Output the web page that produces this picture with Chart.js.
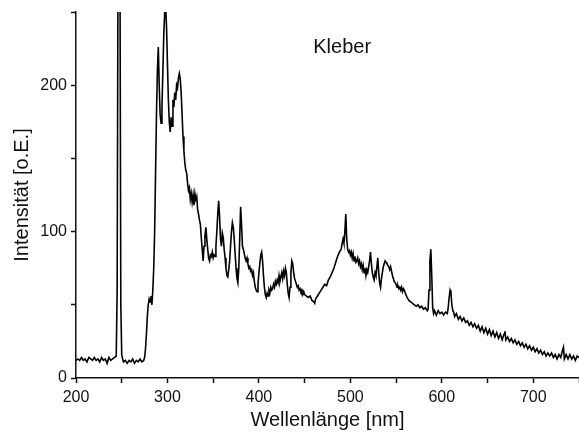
<!DOCTYPE html>
<html>
<head>
<meta charset="utf-8">
<script src="https://cdn.jsdelivr.net/npm/chart.js@4"></script>
<style>
  html, body { margin: 0; padding: 0; background: #fff; }
  #wrap { width: 579px; height: 437px; position: relative; }
</style>
</head>
<body>
<div id="wrap"><canvas id="c" width="579" height="437"></canvas></div>
<script>
// Wavelength (nm) and intensity (o.E.)
const wavelengthNm = [
  200,202,204,206,208,210,212,214,216,218,
  220,222,224,226,228,230,232,234,236,238,
  240,242,244,245,246,247,248,249,250,251,
  252,254,256,258,260,262,264,266,268,270,
  272,274,275,276,277,278,279,280,281,282,
  283,284,285,286,287,288,289,290,291,292,
  293,294,295,296,297,298,299,300,301,302,
  303,304,305,306,307,308,309,310,311,312,
  313,314,315,316,317,318,319,320,321,322,
  323,324,325,326,327,328,329,330,331,332,
  333,334,335,336,337,338,339,340,341,342,
  343,344,345,346,347,348,349,350,351,352,
  353,354,355,356,357,358,359,360,361,362,
  363,364,365,366,367,368,369,370,371,372,
  373,374,375,376,377,378,379,380,381,382,
  383,384,385,386,387,388,389,390,391,392,
  393,394,395,396,397,398,399,400,401,402,
  403,404,405,406,407,408,409,410,411,412,
  413,414,415,416,417,418,419,420,421,422,
  423,424,425,426,427,428,429,430,431,432,
  433,434,435,436,437,438,439,440,441,442,
  443,444,445,446,447,448,449,450,452,454,
  456,458,460,461,462,464,466,468,470,472,
  474,476,478,480,482,484,486,488,490,491,
  492,493,494,495,496,497,498,499,500,501,
  502,503,504,505,506,507,508,509,510,511,
  512,513,514,515,516,517,518,519,520,521,
  522,523,524,525,526,527,528,529,530,531,
  532,533,534,535,536,537,538,539,540,541,
  542,543,544,545,546,547,548,549,550,551,
  552,553,554,555,556,557,558,559,560,562,
  564,566,568,570,572,574,576,578,580,582,
  584,585,586,587,588,589,590,591,592,594,
  596,598,600,602,604,606,607,608,609,610,
  611,612,613,614,616,618,620,622,624,626,
  628,630,632,634,636,638,640,642,644,646,
  648,650,652,654,656,658,660,662,664,666,
  668,669,670,672,674,676,678,680,682,684,
  686,688,690,692,694,696,698,700,702,704,
  706,708,710,712,714,716,718,720,722,724,
  726,728,730,732,733,734,736,738,740,742,
  744,746,748,750
];
const intensity = [
  12,13,12,14,12,13,11,14,13,12,
  14,12,13,11,14,12,13,10,14,12,
  13,14,15,60,300,500,300,50,16,13,
  11,12,10,12,11,13,10,12,11,13,
  11,12,14,20,30,42,50,54,52,56,
  50,60,75,100,140,180,210,226,200,180,
  174,185,210,235,250,254,240,215,190,175,
  168,178,172,190,185,195,190,200,198,205,
  208,204,195,180,165,155,147,142,140,133,
  128,130,122,126,120,125,118,126,122,124,
  115,112,108,105,96,88,80,90,97,103,
  95,88,82,80,84,83,86,82,84,83,
  90,100,112,121,110,95,90,99,96,88,
  82,75,70,69,74,80,90,100,106,103,
  95,85,75,68,65,75,95,117,105,90,
  88,85,82,80,82,78,75,76,73,74,
  70,72,66,62,60,59,64,72,78,84,
  86,80,70,62,57,55,58,56,60,58,
  62,60,61,64,62,66,64,67,65,70,
  66,69,72,68,73,70,75,72,64,58,
  55,62,72,80,78,72,68,66,64,62,
  63,60,61,59,60,57,59,57,56,55,
  56,53,52,51,54,56,58,60,62,64,
  63,67,69,72,75,79,83,86,88,92,
  95,92,100,112,95,88,86,87,84,86,
  82,85,80,83,79,80,82,78,80,76,
  78,74,77,72,75,70,74,72,76,80,
  86,78,72,69,67,72,70,76,82,72,
  65,62,68,72,76,78,80,79,78,77,
  76,74,76,73,70,68,66,65,64,62,
  63,61,62,60,62,59,61,60,58,55,
  53,52,51,50,49,50,48,49,47,48,
  46,47,60,80,88,70,48,44,46,43,
  46,44,45,43,45,44,48,55,60,58,
  50,46,45,42,44,40,42,39,41,38,
  39,36,38,35,37,34,36,32,35,31,
  34,30,33,29,32,28,31,27,30,26,
  30,32,26,28,25,27,24,26,23,25,
  22,24,21,23,20,22,19,21,18,20,
  17,19,16,18,15,17,15,17,14,16,
  13,16,14,19,21,13,16,13,16,13,
  15,12,15,14
];
const xTickLabels = [200, 300, 400, 500, 600, 700];
const yTickLabels = [0, 100, 200];
const sampleLabel = 'Kleber';
const xTitle = 'Wellenlänge [nm]';
const yTitle = 'Intensität [o.E.]';

const points = wavelengthNm.map((w, i) => ({ x: w, y: intensity[i] }));

const FONT = "'Liberation Sans', Arial, Helvetica, sans-serif";

const labelPlugin = {
  id: 'sampleLabel',
  afterDraw(chart) {
    const ctx = chart.ctx;
    const xs = chart.scales.x, ys = chart.scales.y;
    ctx.save();
    ctx.font = '20px ' + FONT;
    ctx.fillStyle = '#111';
    ctx.textAlign = 'center';
    ctx.textBaseline = 'alphabetic';
    ctx.fillText(sampleLabel, xs.getPixelForValue(491), ys.getPixelForValue(222));
    ctx.restore();
  }
};

new Chart(document.getElementById('c'), {
  type: 'line',
  data: {
    datasets: [{
      data: points,
      borderColor: '#000',
      borderWidth: 1.6,
      pointRadius: 0,
      tension: 0,
      fill: false
    }]
  },
  options: {
    responsive: false,
    animation: false,
    layout: { padding: { top: 12, right: 0, left: 0, bottom: 0 } },
    plugins: { legend: { display: false }, tooltip: { enabled: false } },
    scales: {
      x: {
        type: 'linear',
        min: 200, max: 750,
        afterFit(s) { s.height = 59; s.paddingRight = 0; s.paddingLeft = 0; },
        border: { display: true, color: '#111', width: 1.5 },
        grid: { display: true, drawOnChartArea: false, drawTicks: true, tickLength: 5, tickWidth: 1.5, tickColor: '#111' },
        ticks: {
          stepSize: 50,
          autoSkip: false,
          maxRotation: 0,
          padding: 5,
          color: '#111',
          font: { family: FONT, size: 16 },
          callback: (v) => xTickLabels.includes(v) ? String(v) : ''
        },
        title: {
          display: true, text: xTitle, color: '#111',
          font: { family: FONT, size: 20 },
          padding: { top: 0, bottom: 5 }
        }
      },
      y: {
        min: 0, max: 250,
        afterFit(s) { s.width = 76; s.paddingTop = 0; s.paddingBottom = 0; },
        border: { display: true, color: '#111', width: 1.5 },
        grid: { display: true, drawOnChartArea: false, drawTicks: true, tickLength: 5, tickWidth: 1.5, tickColor: '#111' },
        ticks: {
          stepSize: 50,
          autoSkip: false,
          padding: 4,
          color: '#111',
          font: { family: FONT, size: 16 },
          callback: (v) => yTickLabels.includes(v) ? String(v) : ''
        },
        title: {
          display: true, text: yTitle, color: '#111',
          font: { family: FONT, size: 20 },
          padding: { top: 10, bottom: 0 }
        }
      }
    }
  },
  plugins: [labelPlugin]
});
</script>
</body>
</html>
